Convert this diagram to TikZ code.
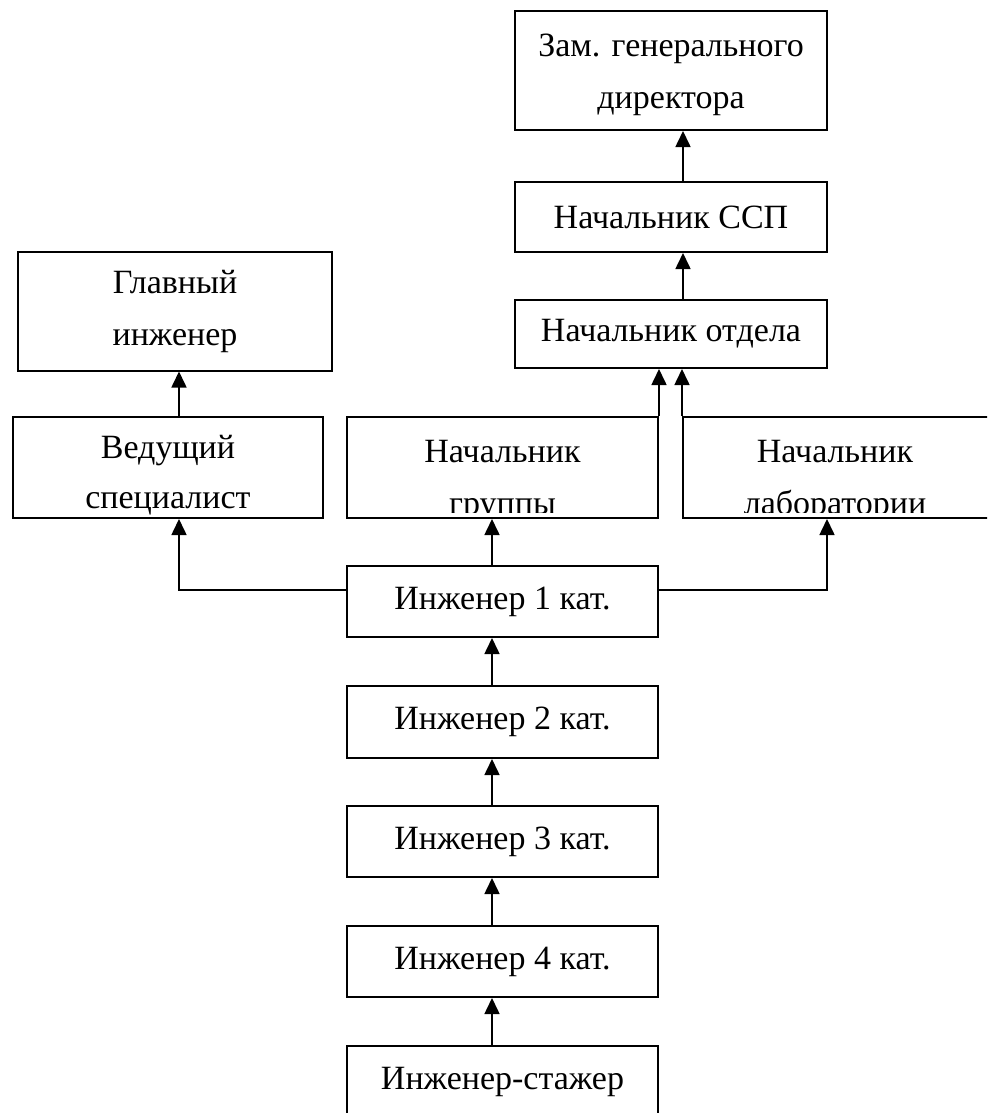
\documentclass[tikz,border=0pt]{standalone}
\usepackage{fontspec}
\setmainfont{Liberation Serif}
\usetikzlibrary{arrows.meta}

\tikzset{
  box/.style={draw, line width=1pt, inner sep=0pt, align=center,
    font=\fontsize{17}{26}\selectfont},
  boxtext/.style={inner sep=0pt, align=center, font=\fontsize{17}{26}\selectfont},
  arr/.style={line width=0.8pt, -{Triangle[width=7.5pt,length=8pt]}}
}

\begin{document}
\begin{tikzpicture}[x=0.5pt,y=-0.5pt]
  \useasboundingbox (0,0) rectangle (987,1113);
  \clip (0,0) rectangle (987,1113);
  % Top chain
  \node[box, minimum width=156pt, minimum height=59.5pt] (zam) at (671,70.5) {};
  \node[boxtext] (zamT) at (671,75) {Зам. генерального\\директора};
  \node[box, minimum width=156pt, minimum height=35pt] (ssp) at (671,217) {Начальник ССП};
  \node[box, minimum width=156pt, minimum height=34pt] (otd) at (671,334) {Начальник отдела};
  % Left branch
  \node[box, minimum width=157pt, minimum height=59.5pt] (glav) at (175,311) {Главный\\инженер};
  \node[box, minimum width=155pt, minimum height=50.5pt] (ved) at (168,467.5) {};
  \node[boxtext, font=\fontsize{17}{25}\selectfont] (vedT) at (168,475) {Ведущий\\специалист};
  % Group and laboratory (text cut at the frame)
  \node[box, minimum width=155.5pt, minimum height=50.5pt] (grp) at (502.5,467.5) {};
  \node[box, minimum width=158.5pt, minimum height=50.5pt] (lab) at (841.5,467.5) {};
  \begin{scope}
    \clip (347,417) rectangle (1000,512);
    \node[boxtext] (grpT) at (502.5,481) {Начальник\\группы};
    \node[boxtext] (labT) at (835,481) {Начальник\\лаборатории};
  \end{scope}
  % Engineers
  \node[box, minimum width=155.5pt, minimum height=35.5pt] (e1) at (502.5,601.5) {Инженер 1 кат.};
  \node[box, minimum width=155.5pt, minimum height=36pt] (e2) at (502.5,722) {Инженер 2 кат.};
  \node[box, minimum width=155.5pt, minimum height=35.5pt] (e3) at (502.5,841.5) {Инженер 3 кат.};
  \node[box, minimum width=155.5pt, minimum height=35.5pt] (e4) at (502.5,961.5) {Инженер 4 кат.};
  \node[box, minimum width=155.5pt, minimum height=35.5pt] (st) at (502.5,1081.5) {Инженер-стажер};
  % Helper points for the connectors
  \coordinate (axisR) at (683,0);
  \coordinate (axisM) at (492,0);
  \coordinate (tapL) at (179,590);
  \coordinate (tapR) at (827,590);
  % Connectors
  \draw[arr] (ssp.north -| axisR) -- (zam.south -| axisR);
  \draw[arr] (otd.north -| axisR) -- (ssp.south -| axisR);
  \draw[arr] (grp.north east) -- (grp.north east |- otd.south);
  \draw[arr] (lab.north west) -- (lab.north west |- otd.south);
  \draw[arr] (ved.north -| tapL) -- (glav.south -| tapL);
  \draw[arr] (e1.west |- tapL) -- (tapL) -- (tapL |- ved.south);
  \draw[arr] (e1.east |- tapR) -- (tapR) -- (tapR |- lab.south);
  \draw[arr] (e1.north -| axisM) -- (grp.south -| axisM);
  \draw[arr] (e2.north -| axisM) -- (e1.south -| axisM);
  \draw[arr] (e3.north -| axisM) -- (e2.south -| axisM);
  \draw[arr] (e4.north -| axisM) -- (e3.south -| axisM);
  \draw[arr] (st.north -| axisM) -- (e4.south -| axisM);
\end{tikzpicture}
\end{document}
